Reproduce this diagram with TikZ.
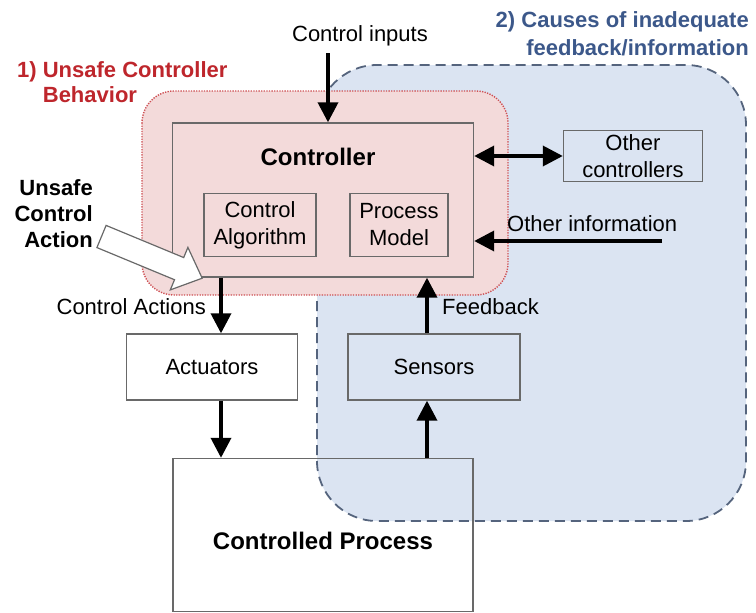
\documentclass[tikz,border=0pt]{standalone}
\usepackage{fontspec}
\setmainfont{Liberation Sans}
\usetikzlibrary{arrows.meta}
\definecolor{pinkfill}{RGB}{243,218,218}
\definecolor{pinkline}{RGB}{206,80,84}
\definecolor{bluefill}{RGB}{219,228,242}
\definecolor{blueline}{RGB}{85,100,125}
\definecolor{boxgray}{RGB}{105,105,105}
\definecolor{redtext}{RGB}{190,38,44}
\definecolor{bluetext}{RGB}{60,88,138}
\begin{document}
\begin{tikzpicture}[x=1pt,y=-1pt,
  box/.style={draw=boxgray,line width=1.4pt,inner sep=0pt,align=center,
    font=\fontsize{22}{27}\selectfont},
  lbl/.style={inner sep=0pt,font=\fontsize{22}{26}\selectfont},
  blbl/.style={inner sep=0pt,font=\fontsize{24}{28}\selectfont\bfseries},
  flow/.style={line width=3.6pt,-{Triangle[length=20pt,width=20pt]}},
  dflow/.style={line width=3.6pt,{Triangle[length=20pt,width=20pt]}-{Triangle[length=20pt,width=20pt]}},
]
\useasboundingbox (0,0) rectangle (756,613);
% regions
\draw[fill=bluefill,draw=blueline,line width=1.8pt,dash pattern=on 10pt off 6pt,rounded corners=60pt]
  (317,65) rectangle (746,521);
\draw[fill=pinkfill,draw=pinkline,line width=1.4pt,dash pattern=on 1.3pt off 1.3pt,rounded corners=32pt]
  (142,91) rectangle (508,295);
% boxes
\node[box,minimum width=301pt,minimum height=154pt] (ctrl) at (323,200) {};
\node[blbl] (ctrltxt) at (318,157) {Controller};
\node[box,minimum width=112pt,minimum height=63pt] (alg) at (260,225) {Control\\Algorithm};
\node[box,minimum width=98pt,minimum height=63pt] (pm) at (399,225) {Process\\Model};
\node[box,minimum width=139pt,minimum height=51pt] (oc) at (633,156) {Other\\controllers};
\node[box,fill=white,minimum width=171pt,minimum height=66pt] (act) at (212,367) {Actuators};
\node[box,minimum width=172pt,minimum height=66pt] (sens) at (434,367) {Sensors};
\node[box,minimum width=300pt,minimum height=153pt] (proc) at (323,535) {};
\node[blbl] (proctxt) at (323,541) {Controlled Process};
% labels
\node[lbl] (cilbl) at (360,36) {Control inputs};
\node[lbl,anchor=west] (oilbl) at (507,224) {Other information};
\node[lbl,anchor=west] (fblbl) at (442,307) {Feedback};
\node[lbl,anchor=east] (calbl) at (206,307) {Control Actions};
\node[inner sep=0pt,anchor=north west,align=left,text=redtext,
  font=\fontsize{22}{25}\selectfont\bfseries] (t1) at (17,61) {1) Unsafe Controller\\\phantom{1) }Behavior};
\node[inner sep=0pt,anchor=north east,align=right,text=bluetext,
  font=\fontsize{22}{28}\selectfont\bfseries] (t2) at (749,11) {2) Causes of inadequate\\feedback/information};
\node[inner sep=0pt,anchor=east,align=right,
  font=\fontsize{22}{26}\selectfont\bfseries] (uca) at (93,214) {Unsafe\\Control\\Action};
% hollow arrow
\begin{scope}[shift={(101.5,236.5)},rotate=-22.5]
\draw[fill=white,draw=boxgray,line width=1.2pt,line join=miter]
  (0,-12) -- (84,-12) -- (84,-23) -- (109,0) -- (84,23) -- (84,12) -- (0,12) -- cycle;
\end{scope}
% connectors
\coordinate (ci) at (328,53);
\coordinate (oi) at (662,241);
\coordinate (cax) at (221,0);
\coordinate (fbx) at (427,0);
\draw[flow] (ci) -- (ci |- ctrl.north);
\draw[dflow] (ctrl.east |- oc.west) -- (oc.west);
\draw[flow] (oi) -- (oi -| ctrl.east);
\draw[flow] (ctrl.south -| cax) -- (act.north -| cax);
\draw[flow] (act.south -| cax) -- (proc.north -| cax);
\draw[flow] (sens.north -| fbx) -- (ctrl.south -| fbx);
\draw[flow] (proc.north -| fbx) -- (sens.south -| fbx);
\end{tikzpicture}
\end{document}
